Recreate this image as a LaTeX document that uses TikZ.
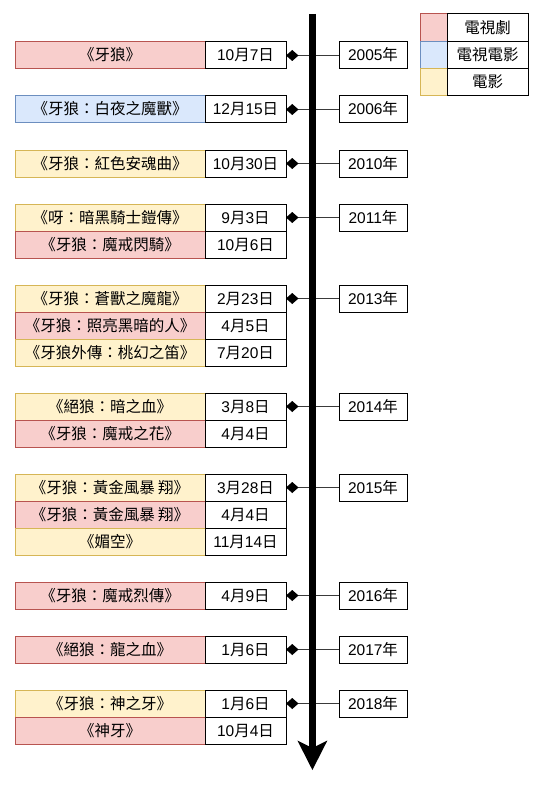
\documentclass[tikz,border=0pt]{standalone}
\usepackage{fontspec}
\setmainfont{Liberation Sans}
\newfontfamily\cjk{Noto Sans CJK TC}
\usetikzlibrary{arrows.meta}
\definecolor{rf}{HTML}{F8CECC}
\definecolor{rl}{HTML}{B85450}
\definecolor{bf}{HTML}{DAE8FC}
\definecolor{bl}{HTML}{6C8EBF}
\definecolor{yf}{HTML}{FFF2CC}
\definecolor{yl}{HTML}{D6B656}
\definecolor{cgray}{HTML}{3A3A3A}
\newcommand\yue{{\cjk 月}}
\newcommand\ri{{\cjk 日}}
\newcommand\nian{{\cjk 年}}
\newcommand\entry[5]{%
  \node[#3] (#1t) at (110,{55.5+27*#2}) {#4};
  \node[dbox, anchor=west] (#1d) at (#1t.east) {#5};}
\newcommand\yearnode[3]{%
  \node[ybox] (#1) at (373,{55.5+27*#2}) {#3\nian};}
\begin{document}
\begin{tikzpicture}[x=1pt,y=-1pt,
  every node/.style={font=\fontsize{15.5}{18}\selectfont, text height=12pt, text depth=1pt, inner sep=0pt, outer sep=0pt, line width=1pt},
  tbox/.style={draw, minimum width=190pt, minimum height=27pt, font=\fontsize{15.5}{18}\cjk},
  tv/.style={tbox, fill=rf, draw=rl},
  tf/.style={tbox, fill=bf, draw=bl},
  mv/.style={tbox, fill=yf, draw=yl},
  dbox/.style={draw=black, fill=white, minimum width=81pt, minimum height=27pt},
  ybox/.style={draw=black, fill=white, minimum width=68pt, minimum height=27pt},
  sw/.style={draw, minimum width=27pt, minimum height=27.3pt},
  lbox/.style={draw=black, fill=white, minimum width=81pt, minimum height=27.3pt, font=\fontsize{15.5}{18}\cjk},
  conn/.style={draw=cgray, line width=1.3pt, arrows={Diamond[length=12.5pt,width=11pt,color=black,fill=black]-}}
]
\useasboundingbox (0,0) rectangle (544,789);

% entries
\entry{a}{0}{tv}{《牙狼》}{10\yue 7\ri}
\entry{b}{2}{tf}{《牙狼：白夜之魔獸》}{12\yue 15\ri}
\entry{c}{4}{mv}{《牙狼：紅色安魂曲》}{10\yue 30\ri}
\entry{d}{6}{mv}{《呀：暗黑騎士鎧傳》}{9\yue 3\ri}
\entry{e}{7}{tv}{《牙狼：魔戒閃騎》}{10\yue 6\ri}
\entry{f}{9}{mv}{《牙狼：蒼獸之魔龍》}{2\yue 23\ri}
\entry{g}{10}{tv}{《牙狼：照亮黑暗的人》}{4\yue 5\ri}
\entry{h}{11}{mv}{《牙狼外傳：桃幻之笛》}{7\yue 20\ri}
\entry{i}{13}{mv}{《絕狼：暗之血》}{3\yue 8\ri}
\entry{j}{14}{tv}{《牙狼：魔戒之花》}{4\yue 4\ri}
\entry{k}{16}{mv}{《牙狼：黃金風暴 翔》}{3\yue 28\ri}
\entry{l}{17}{tv}{《牙狼：黃金風暴 翔》}{4\yue 4\ri}
\entry{m}{18}{mv}{《媚空》}{11\yue 14\ri}
\entry{n}{20}{tv}{《牙狼：魔戒烈傳》}{4\yue 9\ri}
\entry{o}{22}{tv}{《絕狼：龍之血》}{1\yue 6\ri}
\entry{p}{24}{mv}{《牙狼：神之牙》}{1\yue 6\ri}
\entry{q}{25}{tv}{《神牙》}{10\yue 4\ri}

% years
\yearnode{y2005}{0}{2005}
\yearnode{y2006}{2}{2006}
\yearnode{y2010}{4}{2010}
\yearnode{y2011}{6}{2011}
\yearnode{y2013}{9}{2013}
\yearnode{y2014}{13}{2014}
\yearnode{y2015}{16}{2015}
\yearnode{y2016}{20}{2016}
\yearnode{y2017}{22}{2017}
\yearnode{y2018}{24}{2018}

% connectors
\draw[conn] (ad.east) -- (y2005.west);
\draw[conn] (bd.east) -- (y2006.west);
\draw[conn] (cd.east) -- (y2010.west);
\draw[conn] (dd.east) -- (y2011.west);
\draw[conn] (fd.east) -- (y2013.west);
\draw[conn] (id.east) -- (y2014.west);
\draw[conn] (kd.east) -- (y2015.west);
\draw[conn] (nd.east) -- (y2016.west);
\draw[conn] (od.east) -- (y2017.west);
\draw[conn] (pd.east) -- (y2018.west);

% timeline
\coordinate (ttop) at (312.4,14);
\coordinate (tend) at (312.4,748);
\coordinate (ttip) at (312.4,770);
\draw[line width=6.7pt] (ttop) -- (tend);
\fill (ttip) -- (297.4,740.5) -- (tend) -- (327.4,740.5) -- cycle;

% legend
\node[sw, fill=rf, draw=rl] (lr) at (433.5,27.65) {};
\node[sw, fill=bf, draw=bl] (lb) at (433.5,54.95) {};
\node[sw, fill=yf, draw=yl] (ly) at (433.5,82.25) {};
\node[lbox, anchor=west] (lrt) at (lr.east) {電視劇};
\node[lbox, anchor=west] (lbt) at (lb.east) {電視電影};
\node[lbox, anchor=west] (lyt) at (ly.east) {電影};
\end{tikzpicture}
\end{document}
